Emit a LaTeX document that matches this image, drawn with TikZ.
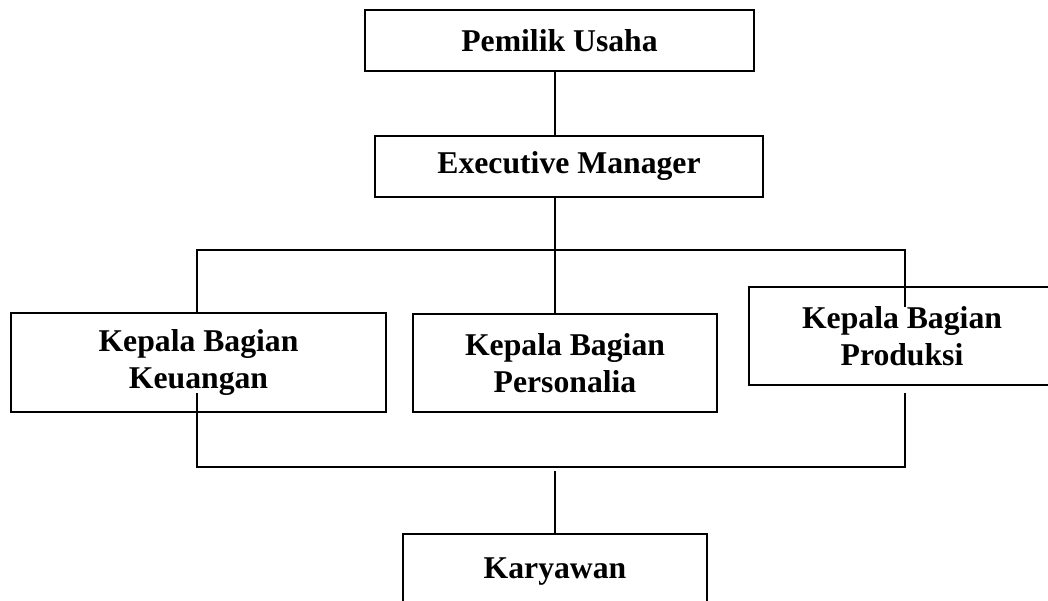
\documentclass[tikz,border=0pt]{standalone}
\usepackage{fontspec}
\setmainfont{Liberation Serif}
\begin{document}
\begin{tikzpicture}[x=1pt,y=-1pt,
  box/.style={draw, line width=2pt, inner sep=0pt, align=center,
    font=\fontsize{31.7}{37}\selectfont\bfseries},
  conn/.style={line width=2pt}]
\clip (0,0) rectangle (1048,601);
\node[box, minimum width=389pt, minimum height=61pt] (pemilik) at (559.5,40.5) {Pemilik Usaha};
\node[box, minimum width=388pt, minimum height=61pt] (exec) at (569,166.5) {Executive Manager};
\node[box, minimum width=375pt, minimum height=99pt] (keu) at (198.5,362.5) {Kepala Bagian\\Keuangan};
\node[box, minimum width=304pt, minimum height=98pt] (pers) at (565,363) {Kepala Bagian\\Personalia};
\node[box, minimum width=306pt, minimum height=98pt] (prod) at (902,336) {Kepala Bagian\\Produksi};
\node[box, minimum width=304pt, minimum height=76pt] (kary) at (555,572) {Karyawan};
\coordinate (busL) at (197,250);
\coordinate (busM) at (555,250);
\coordinate (busR) at (905,250);
\coordinate (prodIn) at (905,307);
\coordinate (keuIn) at (197,393);
\coordinate (prodOut) at (905,393);
\coordinate (lowL) at (197,467);
\coordinate (lowR) at (905,467);
\coordinate (lowM) at (555,471);
\draw[conn] (pemilik.south -| busM) -- (exec.north -| busM);
\draw[conn] (exec.south -| busM) -- (busM);
\draw[conn] (keu.north -| busL) -- (busL) -- (busR) -- (prodIn);
\draw[conn] (busM) -- (pers.north -| busM);
\draw[conn] (keuIn) -- (lowL) -- (lowR) -- (prodOut);
\draw[conn] (lowM) -- (kary.north -| lowM);
\end{tikzpicture}
\end{document}
